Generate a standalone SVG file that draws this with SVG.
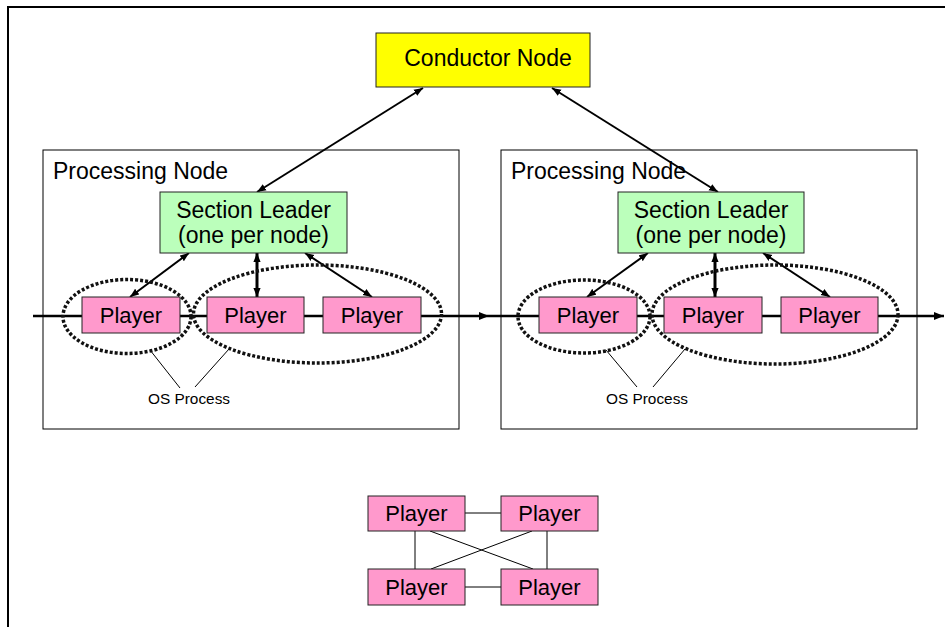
<svg xmlns="http://www.w3.org/2000/svg" width="945" height="627" viewBox="0 0 945 627">
  <style>
    text { font-family: "Liberation Sans", Arial, sans-serif; fill: #000; }
    .big { font-size: 23px; }
    .pl { font-size: 22px; text-anchor: middle; }
    .small { font-size: 15.4px; text-anchor: middle; }
    .mid { text-anchor: middle; }
    .pnode { fill: #fff; stroke: #000; stroke-width: 1; }
    .player { fill: #ff99cc; stroke: #222; stroke-width: 1; }
    .leader { fill: #bbffbb; stroke: #222; stroke-width: 1; }
    .conductor { fill: #ffff00; stroke: #222; stroke-width: 1; }
    .flow { stroke: #000; stroke-width: 2.5; fill: none; }
    .link { stroke: #000; stroke-width: 2; fill: none; marker-start: url(#ah); marker-end: url(#ah); }
    .link-v { stroke: #000; stroke-width: 3; fill: none; marker-start: url(#ah); marker-end: url(#ah); }
    .proc { fill: none; stroke: #111; stroke-width: 3.5; stroke-dasharray: 3 2; }
    .thin { stroke: #000; stroke-width: 1; fill: none; }
  </style>
  <defs>
    <marker id="ah" viewBox="0 0 10 8" refX="10" refY="4" markerWidth="9" markerHeight="8" markerUnits="userSpaceOnUse" orient="auto-start-reverse">
      <path d="M0,0 L10,4 L0,8 z" fill="#000"/>
    </marker>
    <marker id="fh" viewBox="0 0 10 8" refX="10" refY="4" markerWidth="10" markerHeight="9" markerUnits="userSpaceOnUse" orient="auto">
      <path d="M0,0 L10,4 L0,8 z" fill="#000"/>
    </marker>
  </defs>

  <!-- page frame -->
  <path d="M8,627 V7 H945" fill="none" stroke="#000" stroke-width="2"/>

  <!-- processing node containers -->
  <g id="processing-node-1">
    <rect class="pnode" x="43" y="150" width="416" height="279"/>
    <text class="big" x="53" y="179">Processing Node</text>
  </g>
  <g id="processing-node-2">
    <rect class="pnode" x="501" y="150" width="416" height="279"/>
    <text class="big" x="511" y="179">Processing Node</text>
  </g>

  <!-- connectors -->
  <g id="connectors">
    <!-- data flow through the players -->
    <line class="flow" x1="33" y1="316" x2="489" y2="316" marker-end="url(#fh)"/>
    <line class="flow" x1="489" y1="316" x2="944" y2="316" marker-end="url(#fh)"/>
    <!-- conductor to section leaders -->
    <line class="link" x1="257" y1="192" x2="423" y2="88"/>
    <line class="link" x1="718" y1="192" x2="552" y2="88"/>
    <!-- section leader 1 to its players -->
    <line class="link" x1="130" y1="297" x2="189" y2="253"/>
    <line class="link-v" x1="257" y1="297" x2="257" y2="253"/>
    <line class="link" x1="372" y1="297" x2="305" y2="253"/>
    <!-- section leader 2 to its players -->
    <line class="link" x1="587" y1="297" x2="648" y2="253"/>
    <line class="link-v" x1="715" y1="297" x2="715" y2="253"/>
    <line class="link" x1="830" y1="297" x2="763" y2="253"/>
    <!-- OS process callouts -->
    <line class="thin" x1="150" y1="350" x2="180" y2="388"/>
    <line class="thin" x1="229" y1="349" x2="195" y2="387"/>
    <line class="thin" x1="606" y1="350" x2="637" y2="387"/>
    <line class="thin" x1="685" y1="349" x2="653" y2="387"/>
    <!-- player mesh -->
    <line class="thin" x1="465" y1="513" x2="501" y2="513"/>
    <line class="thin" x1="465" y1="587" x2="501" y2="587"/>
    <line class="thin" x1="415" y1="531" x2="415" y2="569"/>
    <line class="thin" x1="547" y1="531" x2="547" y2="569"/>
    <line class="thin" x1="430" y1="531" x2="533" y2="569"/>
    <line class="thin" x1="532" y1="531" x2="431" y2="569"/>
  </g>

  <g id="conductor-node">
    <rect class="conductor" x="376" y="33" width="214" height="54"/>
    <text class="big mid" x="488" y="66">Conductor Node</text>
  </g>

  <g id="section-leader-1">
    <rect class="leader" x="160" y="192" width="187" height="61"/>
    <text class="big mid" x="253.5" y="218">Section Leader</text>
    <text class="big mid" x="253.5" y="243">(one per node)</text>
  </g>
  <g id="section-leader-2">
    <rect class="leader" x="618" y="192" width="186" height="61"/>
    <text class="big mid" x="711" y="218">Section Leader</text>
    <text class="big mid" x="711" y="243">(one per node)</text>
  </g>

  <g id="player-1a">
    <rect class="player" x="82" y="297" width="98" height="36"/>
    <text class="pl" x="131" y="323">Player</text>
  </g>
  <g id="player-1b">
    <rect class="player" x="207" y="297" width="97" height="36"/>
    <text class="pl" x="255.5" y="323">Player</text>
  </g>
  <g id="player-1c">
    <rect class="player" x="323" y="297" width="98" height="36"/>
    <text class="pl" x="372" y="323">Player</text>
  </g>
  <g id="player-2a">
    <rect class="player" x="539" y="297" width="98" height="36"/>
    <text class="pl" x="588" y="323">Player</text>
  </g>
  <g id="player-2b">
    <rect class="player" x="664" y="297" width="98" height="36"/>
    <text class="pl" x="713" y="323">Player</text>
  </g>
  <g id="player-2c">
    <rect class="player" x="781" y="297" width="97" height="36"/>
    <text class="pl" x="829.5" y="323">Player</text>
  </g>

  <!-- OS process groupings -->
  <g id="os-process-1">
    <ellipse class="proc" cx="127" cy="316.5" rx="64" ry="37"/>
    <ellipse class="proc" cx="317.5" cy="314" rx="124" ry="49"/>
    <text class="small" x="189" y="404">OS Process</text>
  </g>
  <g id="os-process-2">
    <ellipse class="proc" cx="584" cy="316.5" rx="66" ry="36.5"/>
    <ellipse class="proc" cx="775" cy="314.5" rx="123" ry="49.5"/>
    <text class="small" x="647" y="404">OS Process</text>
  </g>

  <!-- fully connected players -->
  <g id="player-tl">
    <rect class="player" x="368" y="496" width="97" height="35"/>
    <text class="pl" x="416.5" y="521">Player</text>
  </g>
  <g id="player-tr">
    <rect class="player" x="501" y="496" width="97" height="35"/>
    <text class="pl" x="549.5" y="521">Player</text>
  </g>
  <g id="player-bl">
    <rect class="player" x="368" y="569" width="97" height="36"/>
    <text class="pl" x="416.5" y="595">Player</text>
  </g>
  <g id="player-br">
    <rect class="player" x="501" y="569" width="97" height="36"/>
    <text class="pl" x="549.5" y="595">Player</text>
  </g>
</svg>
